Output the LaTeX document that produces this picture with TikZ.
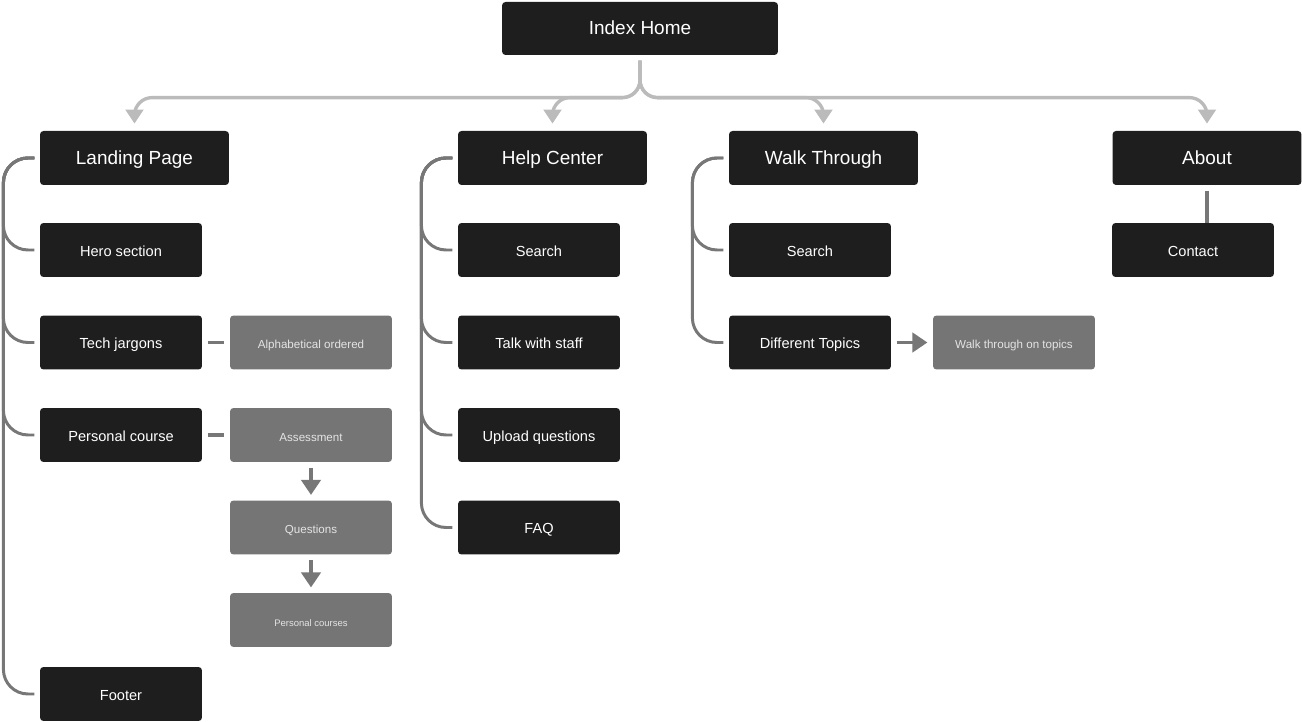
\documentclass[tikz,border=0pt]{standalone}
\usepackage{fontspec}
\setmainfont{Liberation Sans}
\usetikzlibrary{arrows.meta}

\definecolor{boxdark}{HTML}{1E1E1E}
\definecolor{boxgray}{HTML}{757575}
\definecolor{linegray}{HTML}{777777}
\definecolor{branchgray}{HTML}{BBBBBB}
\definecolor{notetext}{HTML}{E4E4E4}

\begin{document}
\begin{tikzpicture}[x=0.02cm, y=-0.02cm,
    mainbox/.style={fill=boxdark, text=white, rounded corners=2pt, minimum width=3.78cm, minimum height=1.08cm, inner sep=0pt, text height=0.74em, text depth=0.04em, font=\fontsize{10.8}{13}\selectfont},
    subbox/.style={mainbox, minimum width=3.24cm, font=\fontsize{8.3}{10}\selectfont},
    notebox/.style={subbox, fill=boxgray, text=notetext, font=\fontsize{6.6}{8}\selectfont},
    branch/.style={branchgray, line width=1.9pt, rounded corners=10pt, -{Triangle[width=10pt,length=8pt]}},
    bracket/.style={linegray, line width=1.7pt, rounded corners=14pt},
    link/.style={linegray, line width=1.8pt, shorten <=3pt, shorten >=3pt},
    flow/.style={link, -{Triangle[width=11pt,length=8.5pt]}}]
    \useasboundingbox (0,0) rectangle (1302,722);

    % Index Home
    \node[mainbox, minimum width=5.52cm, minimum height=1.06cm] (home) at (640,28.5) {Index Home};

    % Main sections
    \node[mainbox] (landing) at (134.5,158) {Landing Page};
    \node[mainbox] (help) at (552.5,158) {Help Center};
    \node[mainbox] (walk) at (823.5,158) {Walk Through};
    \node[mainbox] (about) at (1207,158) {About};

    % Landing Page
    \node[subbox] (hero) at (121,250) {Hero section};
    \node[subbox] (tech) at (121,342.5) {Tech jargons};
    \node[subbox] (personal) at (121,435) {Personal course};
    \node[subbox] (footer) at (121,694) {Footer};
    \node[notebox] (alpha) at (311,342.5) {Alphabetical ordered};
    \node[notebox] (assess) at (311,435) {Assessment};
    \node[notebox] (questions) at (311,527.5) {Questions};
    \node[notebox, font=\fontsize{5.4}{7}\selectfont] (courses) at (311,620) {Personal courses};

    % Help Center
    \node[subbox] (hsearch) at (539,250) {Search};
    \node[subbox] (talk) at (539,342.5) {Talk with staff};
    \node[subbox] (upload) at (539,435) {Upload questions};
    \node[subbox] (faq) at (539,527.5) {FAQ};

    % Walk Through
    \node[subbox] (wsearch) at (810,250) {Search};
    \node[subbox] (topics) at (810,342.5) {Different Topics};
    \node[notebox] (ontopics) at (1014,342.5) {Walk through on topics};

    % About
    \node[subbox] (contact) at (1193,250) {Contact};

    % Branches from Index Home
    \foreach \target in {landing, help, walk, about}
        \draw[branch] ([yshift=-3pt]home.south) -- ++(0,37) -| ([yshift=4pt]\target.north);

    % Brackets
    \foreach \child in {hero, tech, personal, footer}
        \draw[bracket] ([xshift=-3pt]landing.west) -- ++(-31,0) |- ([xshift=-3pt]\child.west);
    \foreach \child in {hsearch, talk, upload, faq}
        \draw[bracket] ([xshift=-3pt]help.west) -- ++(-31,0) |- ([xshift=-3pt]\child.west);
    \foreach \child in {wsearch, topics}
        \draw[bracket] ([xshift=-3pt]walk.west) -- ++(-31,0) |- ([xshift=-3pt]\child.west);

    % Side links
    \draw[link] (tech) -- (alpha);
    \draw[link] (personal) -- (assess);
    \draw[flow] (assess) -- (questions);
    \draw[flow] (questions) -- (courses);
    \draw[flow] (topics) -- (ontopics);
    \draw[link, shorten >=0pt] (about.south) -- (about.south |- contact.north);
\end{tikzpicture}
\end{document}
